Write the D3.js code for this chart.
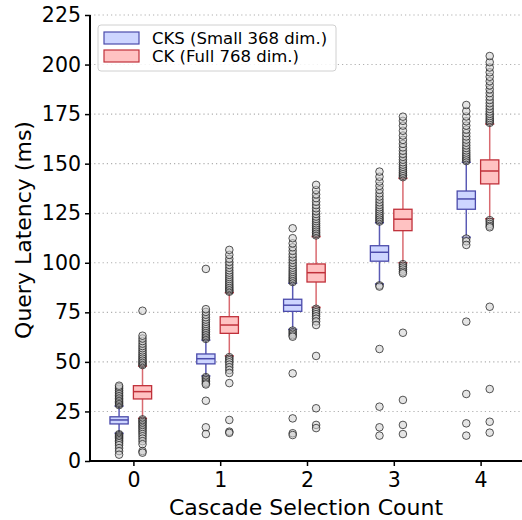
<!DOCTYPE html>
<html>
<head>
<meta charset="utf-8">
<script src="https://cdn.jsdelivr.net/npm/d3@7"></script>
<style>
  body { margin: 0; background: #fff; }
  text { font-family: "DejaVu Sans", sans-serif; }
</style>
</head>
<body>
<div id="chart"></div>
<script>
// Categories on the x axis
var counts = [0, 1, 2, 3, 4];
var seriesNames = ["CKS (Small 368 dim.)", "CK (Full 768 dim.)"];
var yTicks = [0, 25, 50, 75, 100, 125, 150, 175, 200, 225];

// box stats per count: lower whisker, q1, median, q3, upper whisker
var cksLow = [14.0, 42.9, 66.4, 89.3, 112.9];
var cksQ1 = [18.7, 49.0, 75.5, 100.8, 127.0];
var cksMed = [20.7, 51.6, 78.6, 105.3, 132.2];
var cksQ3 = [22.3, 54.0, 81.6, 108.6, 136.2];
var cksHigh = [27.7, 61.0, 89.7, 120.2, 150.7];

var ckLow = [21.5, 53.0, 77.5, 100.0, 122.2];
var ckQ1 = [31.3, 64.4, 90.3, 116.2, 139.8];
var ckMed = [35.0, 68.6, 95.0, 122.0, 146.3];
var ckQ3 = [38.0, 72.8, 99.4, 127.0, 151.9];
var ckHigh = [47.9, 84.9, 113.2, 142.6, 170.0];

// outliers (fliers) per count
var cksFliers = [
    [28.2, 28.8, 29.4, 30.1, 30.8, 31.5, 32.3, 33.0, 33.8, 34.6, 35.5, 36.4, 37.3, 38.0,
     13.5, 13.0, 12.4, 11.8, 11.2, 10.5, 9.8, 9.0, 8.0, 6.5, 5.0, 3.2],
    [61.6, 62.3, 63.0, 63.8, 64.6, 65.4, 66.3, 67.2, 68.1, 69.1, 70.2, 71.3, 72.5, 73.8, 75.2, 76.6, 96.9,
     42.3, 41.6, 40.8, 40.0, 39.2, 38.6, 30.4, 17.0, 13.6],
    [90.3, 91.0, 91.8, 92.6, 93.5, 94.4, 95.4, 96.4, 97.5, 98.7, 100.0, 101.4, 102.8, 104.3, 106.0, 107.8, 109.8, 112.4, 117.4,
     65.8, 65.0, 64.2, 63.4, 62.7, 44.2, 21.5, 14.0, 13.1],
    [120.8, 121.5, 122.3, 123.1, 124.0, 124.9, 125.9, 126.9, 128.0, 129.2, 130.5, 131.9, 133.4, 135.0, 136.8, 138.8, 141.0, 143.4, 146.0,
     88.6, 88.0, 56.5, 27.4, 17.0, 12.8],
    [151.3, 152.0, 152.8, 153.7, 154.6, 155.6, 156.7, 157.9, 159.2, 160.6, 162.1, 163.7, 165.4, 167.2, 169.2, 171.4, 173.8, 176.5, 179.6,
     112.2, 110.8, 109.0, 70.3, 33.8, 19.0, 12.8]
];
var ckFliers = [
    [48.4, 49.0, 49.7, 50.4, 51.2, 52.0, 52.9, 53.8, 54.8, 55.8, 56.9, 58.0, 59.2, 60.5, 61.8, 63.2, 75.8,
     21.0, 20.3, 19.6, 18.8, 18.0, 17.2, 16.4, 15.5, 14.6, 13.6, 12.5, 11.3, 10.0, 8.5, 5.0, 4.2],
    [85.4, 86.0, 86.7, 87.4, 88.2, 89.0, 89.9, 90.8, 91.8, 92.8, 93.9, 95.0, 96.2, 97.5, 98.9, 100.4, 102.0, 104.0, 106.5,
     52.4, 51.6, 50.8, 49.8, 48.6, 47.3, 45.9, 44.4, 39.3, 20.7, 14.8, 14.2],
    [113.8, 114.5, 115.3, 116.1, 117.0, 117.9, 118.9, 119.9, 121.0, 122.1, 123.3, 124.6, 126.0, 127.5, 129.1, 130.8, 132.6, 134.5, 136.7, 139.3,
     76.8, 76.0, 75.1, 74.1, 73.0, 71.8, 70.4, 68.6, 53.0, 26.6, 18.2, 16.6],
    [143.2, 143.9, 144.7, 145.5, 146.4, 147.4, 148.4, 149.5, 150.7, 152.0, 153.4, 154.9, 156.5, 158.2, 160.0, 162.0, 164.2, 166.6, 169.2, 171.6, 173.7,
     99.3, 98.5, 97.6, 96.6, 95.5, 94.7, 64.7, 30.8, 18.2, 13.6],
    [170.6, 171.3, 172.1, 173.0, 174.0, 175.1, 176.3, 177.6, 179.0, 180.5, 182.1, 183.8, 185.6, 187.5, 189.5, 191.6, 193.8, 196.1, 198.5, 201.2, 204.3,
     121.5, 120.6, 119.6, 118.6, 117.9, 77.8, 36.3, 19.8, 14.3]
];

var svgWidth = 522;
var svgHeight = 520;
var margin = { top: 15, left: 90, bottom: 59 };
var plotBottom = svgHeight - margin.bottom;

var svg = d3.select("#chart")
    .append("svg")
    .attr("width", svgWidth)
    .attr("height", svgHeight);

var x = d3.scaleLinear().domain([-0.5, 4.5]).range([margin.left, 524]);
var y = d3.scaleLinear().domain([0, 225]).range([plotBottom, margin.top]);

// grid
svg.append("g").selectAll("line")
    .data(yTicks.slice(1))
    .enter()
    .append("line")
    .attr("x1", margin.left)
    .attr("x2", svgWidth)
    .attr("y1", d => y(d))
    .attr("y2", d => y(d))
    .attr("stroke", "#b0b0b0")
    .attr("stroke-width", 1.1)
    .attr("stroke-dasharray", "1.2,3");

var boxW = 0.21;
var series = [
    { name: seriesNames[0], offset: -0.165, low: cksLow, q1: cksQ1, med: cksMed, q3: cksQ3, high: cksHigh, fliers: cksFliers,
      fill: "#cdd5ff", edge: "#4b4bab", whisker: "#5a5ab4" },
    { name: seriesNames[1], offset: 0.105, low: ckLow, q1: ckQ1, med: ckMed, q3: ckQ3, high: ckHigh, fliers: ckFliers,
      fill: "#ffc2c2", edge: "#c0303a", whisker: "#d96a70" }
];

series.forEach(function(s) {
    var g = svg.append("g");
    counts.forEach(function(c, i) {
        var cx = x(c + s.offset);
        var half = (x(boxW) - x(0)) / 2;
        // whiskers
        g.append("line")
            .attr("x1", cx).attr("x2", cx)
            .attr("y1", y(s.q3[i])).attr("y2", y(s.high[i]))
            .attr("stroke", s.whisker).attr("stroke-width", 1.5);
        g.append("line")
            .attr("x1", cx).attr("x2", cx)
            .attr("y1", y(s.q1[i])).attr("y2", y(s.low[i]))
            .attr("stroke", s.whisker).attr("stroke-width", 1.5);
        // caps
        [s.low[i], s.high[i]].forEach(function(v) {
            g.append("line")
                .attr("x1", cx - half / 2).attr("x2", cx + half / 2)
                .attr("y1", y(v)).attr("y2", y(v))
                .attr("stroke", s.edge).attr("stroke-width", 1.5);
        });
        // fliers
        g.selectAll(null)
            .data(s.fliers[i])
            .enter()
            .append("circle")
            .attr("cx", cx)
            .attr("cy", d => y(d))
            .attr("r", 3.8)
            .attr("fill", "#d0d0d0")
            .attr("fill-opacity", 0.55)
            .attr("stroke", "#111")
            .attr("stroke-opacity", 0.7)
            .attr("stroke-width", 1);
        // box
        g.append("rect")
            .attr("x", cx - half)
            .attr("width", half * 2)
            .attr("y", y(s.q3[i]))
            .attr("height", y(s.q1[i]) - y(s.q3[i]))
            .attr("fill", s.fill)
            .attr("stroke", s.edge)
            .attr("stroke-width", 1.3);
        g.append("line")
            .attr("x1", cx - half).attr("x2", cx + half)
            .attr("y1", y(s.med[i])).attr("y2", y(s.med[i]))
            .attr("stroke", s.edge).attr("stroke-width", 1.5);
    });
});

// axes
var leftAxis = d3.axisLeft(y).tickValues(yTicks).tickSize(5).tickPadding(4);
var bottomAxis = d3.axisBottom(x).tickValues(counts).tickFormat(d3.format("d")).tickSize(5).tickPadding(6);

var yAxisG = svg.append("g")
    .attr("transform", `translate(${margin.left}, 0)`)
    .call(leftAxis);
var xAxisG = svg.append("g")
    .attr("transform", `translate(0, ${plotBottom})`)
    .call(bottomAxis);

[yAxisG, xAxisG].forEach(function(a) {
    a.select(".domain").attr("stroke", "#000").attr("stroke-width", 2);
    a.selectAll(".tick line").attr("stroke", "#000").attr("stroke-width", 1.5);
    a.selectAll(".tick text")
        .attr("fill", "#000")
        .style("font-family", "DejaVu Sans")
        .style("font-size", "20.5px");
});
xAxisG.select(".domain").attr("d", `M${margin.left},0H${svgWidth}`);
yAxisG.select(".domain").attr("d", `M0,${margin.top}V${plotBottom}`);

// axis titles
svg.append("text")
    .attr("x", 306)
    .attr("y", 515)
    .attr("text-anchor", "middle")
    .style("font-size", "22px")
    .text("Cascade Selection Count");
svg.append("text")
    .attr("transform", `translate(31, 230)rotate(-90)`)
    .attr("text-anchor", "middle")
    .style("font-size", "22px")
    .text("Query Latency (ms)");

// legend
var legend = svg.append("g").attr("transform", "translate(98, 25)");
legend.append("rect")
    .attr("width", 238).attr("height", 46)
    .attr("rx", 3)
    .attr("fill", "#fff").attr("fill-opacity", 0.85)
    .attr("stroke", "#d0d0d0");
series.forEach(function(s, i) {
    legend.append("rect")
        .attr("x", 6).attr("y", 7 + i * 18)
        .attr("width", 35).attr("height", 12)
        .attr("fill", s.fill).attr("stroke", s.edge).attr("stroke-width", 1.2);
    legend.append("text")
        .attr("x", 54).attr("y", 19 + i * 18)
        .style("font-size", "16.5px")
        .text(s.name);
});
</script>
</body>
</html>
